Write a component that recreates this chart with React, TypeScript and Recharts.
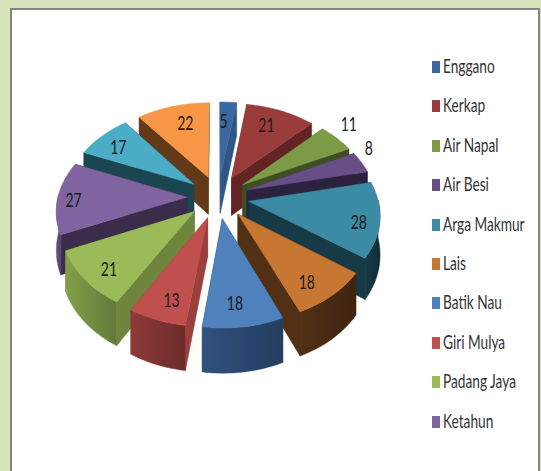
import { Legend, Pie, PieChart } from 'recharts'

const categories = ['Enggano', 'Kerkap', 'Air Napal', 'Air Besi', 'Arga Makmur', 'Lais', 'Batik Nau', 'Giri Mulya', 'Padang Jaya', 'Ketahun', '', '']
const values = [5, 21, 11, 8, 28, 18, 18, 13, 21, 27, 17, 22]
const topColors = ['#3A679F', '#9A3D3A', '#7D9A46', '#674F86', '#3A8BA3', '#C87733', '#4F81BD', '#C0504D', '#9BBB59', '#8064A2', '#4BACC6', '#F79646']
const sideColors = ['#2F5785', '#632423', '#3F4F22', '#2D2140', '#173A47', '#523015', '#2A4A75', '#9B3F3D', '#6F853D', '#3A2C4A', '#1C4552', '#623A18']
const outerColors = ['#2F5785', '#632423', '#3F4F22', '#2D2140', '#173A47', '#523015', '#30517F', '#8F3A38', '#82A04A', '#6B5489', '#1C4552', '#623A18']
// how far along its slice each number sits, as a share of the radius, then a small screen nudge
const labelReach = [0.74, 0.77, 1.22, 1.15, 0.85, 0.81, 0.8, 0.81, 0.81, 0.87, 0.78, 0.74]
const labelNudgeX = [-3, -4, -7, -9, -1, -6, -4, 4, 2, -1, -3, 4]
const labelNudgeY = [1, 0, -5, -10, 5, 4, 0, 2, 4, 2, 1, 0]

const slices = categories.map((name, i) => ({
  name,
  value: values[i],
  top: topColors[i],
  side: sideColors[i],
  outer: outerColors[i],
  reach: labelReach[i],
  nudgeX: labelNudgeX[i],
  nudgeY: labelNudgeY[i],
}))
const reversedSlices = [...slices].reverse()

const WIDTH = 541
const HEIGHT = 471
const EXPLODE = 31
const DEPTH = 38
const FOCAL = 1000
const TILT = 0.689
const RAD = Math.PI / 180
const FONT = 'Lato, Carlito, "Open Sans", sans-serif'

// fake 3D: pie plane seen in perspective, x to the right, d going away from the viewer
function project(cx, cy, x, d, h = 0) {
  const s = FOCAL / (FOCAL + d)
  return [cx + x * s, cy + TILT * FOCAL * (s - 1) + h * s]
}

function toPath(points) {
  return 'M' + points.map((p) => `${p[0].toFixed(2)},${p[1].toFixed(2)}`).join('L') + 'Z'
}

function sliceGeometry(props) {
  const { cx, cy, outerRadius, startAngle, endAngle } = props
  const mid = (startAngle + endAngle) / 2
  const ox = EXPLODE * Math.cos(mid * RAD)
  const od = EXPLODE * Math.sin(mid * RAD)
  const angles = []
  const steps = Math.max(4, Math.ceil(Math.abs(endAngle - startAngle) / 2))
  for (let i = 0; i <= steps; i++) angles.push(startAngle + ((endAngle - startAngle) * i) / steps)
  const rim = (a, h) => project(cx, cy, ox + outerRadius * Math.cos(a * RAD), od + outerRadius * Math.sin(a * RAD), h)
  const apex = (h) => project(cx, cy, ox, od, h)
  return { mid, ox, od, angles, rim, apex }
}

function SideWalls(props) {
  const { angles, rim, apex } = sliceGeometry(props)
  const entry = props.payload ?? props
  const radial = [angles[0], angles[angles.length - 1]].map((a) => [apex(0), rim(a, 0), rim(a, DEPTH), apex(DEPTH)])
  const front = angles.filter((a) => Math.sin(a * RAD) < 0.03)
  const outerPath = toPath([...front.map((a) => rim(a, 0)), ...[...front].reverse().map((a) => rim(a, DEPTH))])
  return (
    <g>
      {radial.map((face, i) => (
        <path key={i} d={toPath(face)} fill={entry.side} stroke={entry.side} strokeWidth={0.5} />
      ))}
      {front.length > 1 && (
        <>
          <path d={outerPath} fill={entry.outer} stroke={entry.outer} strokeWidth={0.5} />
          <path d={outerPath} fill="url(#wallShade)" />
        </>
      )}
    </g>
  )
}

// right half is painted back to front by the clockwise pie, left half by the reversed one
function RightWalls(props) {
  const mid = (props.startAngle + props.endAngle) / 2
  return Math.cos(mid * RAD) >= 0 ? <SideWalls {...props} /> : <g />
}

function LeftWalls(props) {
  const mid = (props.startAngle + props.endAngle) / 2
  return Math.cos(mid * RAD) < 0 ? <SideWalls {...props} /> : <g />
}

function TopFace(props) {
  const { cx, cy, outerRadius } = props
  const { mid, ox, od, angles, rim, apex } = sliceGeometry(props)
  const entry = props.payload ?? props
  const lr = outerRadius * entry.reach
  const [lx, ly] = project(cx, cy, ox + lr * Math.cos(mid * RAD), od + lr * Math.sin(mid * RAD))
  return (
    <g>
      <path d={toPath([apex(0), ...angles.map((a) => rim(a, 0))])} fill={entry.top} stroke={entry.top} strokeWidth={0.5} />
      <text
        transform={`translate(${lx + entry.nudgeX},${ly + 7 + entry.nudgeY}) scale(0.7,1)`}
        textAnchor="middle"
        fontFamily={FONT}
        fontSize={20}
        fill="#1a1a1a"
      >
        {entry.value}
      </text>
    </g>
  )
}

function ChartLegend() {
  return (
    <div style={{ position: 'absolute', left: 432, top: 47 }}>
      {categories.filter(Boolean).map((name, i) => (
        <div key={name} style={{ position: 'relative', height: 39.4, width: 105 }}>
          <span
            style={{ position: 'absolute', left: 0, top: 14, width: 8, height: 12, background: topColors[i] }}
          />
          <span
            style={{
              position: 'absolute',
              left: 11,
              top: 7,
              fontFamily: FONT,
              fontSize: 19,
              lineHeight: '24px',
              color: '#333',
              whiteSpace: 'nowrap',
              transform: 'scaleX(0.72)',
              transformOrigin: 'left center',
            }}
          >
            {name}
          </span>
        </div>
      ))}
    </div>
  )
}

export default function App() {
  return (
    <div style={{ position: 'absolute', left: 0, top: 0, width: WIDTH, height: HEIGHT, background: '#D8E4BC', overflow: 'hidden' }}>
      <div
        style={{
          position: 'absolute',
          left: 10,
          top: 8,
          width: 526,
          height: 480,
          background: '#fff',
          border: '2px solid #848484',
        }}
      />
      <div style={{ position: 'absolute', left: 0, top: 0 }}>
        <PieChart width={WIDTH} height={HEIGHT} margin={{ top: 0, right: 0, bottom: 0, left: 0 }}>
          <defs>
            <linearGradient id="wallShade" x1="0" y1="0" x2="1" y2="0">
              <stop offset="0%" stopColor="#000" stopOpacity={0} />
              <stop offset="100%" stopColor="#000" stopOpacity={0.25} />
            </linearGradient>
          </defs>
          <Pie
            data={slices}
            dataKey="value"
            nameKey="name"
            cx={218}
            cy={197}
            innerRadius={0}
            outerRadius={129}
            startAngle={90}
            endAngle={-270}
            stroke="none"
            legendType="none"
            shape={RightWalls}
            isAnimationActive={false}
          />
          <Pie
            data={reversedSlices}
            dataKey="value"
            nameKey="name"
            cx={218}
            cy={197}
            innerRadius={0}
            outerRadius={129}
            startAngle={-270}
            endAngle={90}
            stroke="none"
            legendType="none"
            shape={LeftWalls}
            isAnimationActive={false}
          />
          <Pie
            data={slices}
            dataKey="value"
            nameKey="name"
            cx={218}
            cy={197}
            innerRadius={0}
            outerRadius={129}
            startAngle={90}
            endAngle={-270}
            stroke="none"
            shape={TopFace}
            isAnimationActive={false}
          />
          <Legend content={ChartLegend} wrapperStyle={{ left: 0, top: 0, width: 0, height: 0 }} />
        </PieChart>
      </div>
    </div>
  )
}
